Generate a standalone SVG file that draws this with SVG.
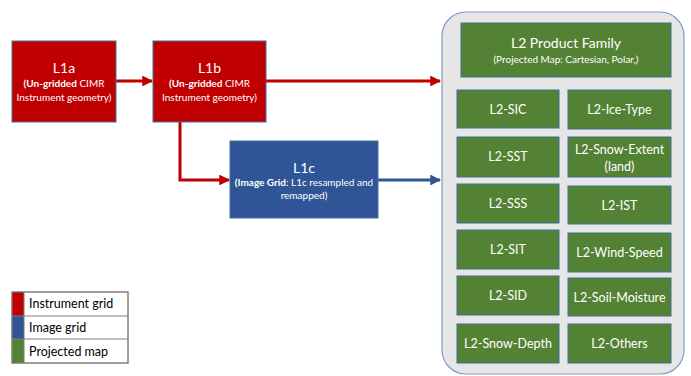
<svg xmlns="http://www.w3.org/2000/svg" width="691" height="376" viewBox="0 0 691 376">
<style>
text{font-family:Lato,"Open Sans","Liberation Sans",sans-serif;fill:#fff;text-anchor:middle}
.red{fill:#C00000;stroke:#41719C;stroke-width:1}
.blue{fill:#2F5597;stroke:#41719C;stroke-width:1}
.green{fill:#548235;stroke:#41719C;stroke-width:1}
.t{font-size:14px}
.s{font-size:10px}
.g{font-size:12.5px}
.lg{font-size:12.5px;fill:#000;text-anchor:start}
</style>
<defs>
<marker id="ar" viewBox="0 0 10 10" refX="9" refY="5" markerWidth="3.6" markerHeight="3.6" orient="auto" markerUnits="strokeWidth"><path d="M0,0L10,5L0,10z" fill="#C00000"/></marker>
<marker id="ab" viewBox="0 0 10 10" refX="9" refY="5" markerWidth="3.6" markerHeight="3.6" orient="auto" markerUnits="strokeWidth"><path d="M0,0L10,5L0,10z" fill="#2F5597"/></marker>
</defs>
<g id="container"><rect x="442" y="12" width="242" height="362" rx="24" fill="#E7E6E6" stroke="#7F9CC9" stroke-width="1.2"/></g>
<g id="connectors" fill="none" stroke-width="3">
<path d="M116,81H152" stroke="#C00000" marker-end="url(#ar)"/>
<path d="M266,81H440" stroke="#C00000" marker-end="url(#ar)"/>
<path d="M180,122V180H229" stroke="#C00000" marker-end="url(#ar)"/>
<path d="M378,180H440" stroke="#2F5597" marker-end="url(#ab)"/>
</g>
<g id="L1a"><rect class="red" x="12" y="41" width="104" height="81"/>
<text class="t" x="64" y="73">L1a</text>
<text class="s" x="64" y="87"><tspan font-weight="bold">(Un-gridded</tspan> CIMR</text>
<text class="s" x="64" y="101">Instrument geometry)</text></g>
<g id="L1b"><rect class="red" x="153" y="41" width="113" height="81"/>
<text class="t" x="209.5" y="73">L1b</text>
<text class="s" x="209.5" y="87"><tspan font-weight="bold">(Un-gridded</tspan> CIMR</text>
<text class="s" x="209.5" y="101">Instrument geometry)</text></g>
<g id="L1c"><rect class="blue" x="230" y="141" width="148" height="77"/>
<text class="t" x="304" y="173">L1c</text>
<text class="s" x="304" y="186"><tspan font-weight="bold">(Image Grid</tspan>: L1c resampled and</text>
<text class="s" x="304" y="199">remapped)</text></g>
<g id="L2family"><rect class="green" x="461" y="23" width="210" height="54"/>
<text class="t" x="566" y="48">L2 Product Family</text>
<text class="s" x="566" y="63">(Projected Map: Cartesian, Polar,)</text></g>
<g id="L2-SIC"><rect class="green" x="457" y="90" width="102" height="38"/><text class="g" x="508" y="114">L2-SIC</text></g>
<g id="L2-Ice-Type"><rect class="green" x="568" y="90" width="103" height="39"/><text class="g" x="619.5" y="114">L2-Ice-Type</text></g>
<g id="L2-SST"><rect class="green" x="457" y="137" width="102" height="40"/><text class="g" x="508" y="161">L2-SST</text></g>
<g id="L2-Snow-Extent"><rect class="green" x="568" y="137" width="103" height="40"/><text class="g" x="619.5" y="154">L2-Snow-Extent</text><text class="g" x="619.5" y="171">(land)</text></g>
<g id="L2-SSS"><rect class="green" x="457" y="184" width="102" height="39"/><text class="g" x="508" y="208">L2-SSS</text></g>
<g id="L2-IST"><rect class="green" x="568" y="186" width="103" height="38"/><text class="g" x="619.5" y="210">L2-IST</text></g>
<g id="L2-SIT"><rect class="green" x="457" y="230" width="102" height="39"/><text class="g" x="508" y="254">L2-SIT</text></g>
<g id="L2-Wind-Speed"><rect class="green" x="568" y="233" width="103" height="39"/><text class="g" x="619.5" y="257">L2-Wind-Speed</text></g>
<g id="L2-SID"><rect class="green" x="457" y="276" width="102" height="39"/><text class="g" x="508" y="300">L2-SID</text></g>
<g id="L2-Soil-Moisture"><rect class="green" x="568" y="278" width="103" height="38"/><text class="g" x="619.5" y="302">L2-Soil-Moisture</text></g>
<g id="L2-Snow-Depth"><rect class="green" x="457" y="324" width="102" height="39"/><text class="g" x="508" y="348">L2-Snow-Depth</text></g>
<g id="L2-Others"><rect class="green" x="568" y="324" width="103" height="39"/><text class="g" x="619.5" y="348">L2-Others</text></g>
<g id="legend">
<rect x="12" y="292" width="116" height="71" fill="#fff" stroke="#7F7F7F" stroke-width="1"/>
<rect x="12" y="292" width="12" height="24" fill="#C00000"/>
<rect x="12" y="316" width="12" height="23" fill="#2F5597"/>
<rect x="12" y="339" width="12" height="24" fill="#548235"/>
<path d="M12,316H128M12,339H128M24,292V363" stroke="#7F7F7F" stroke-width="1" fill="none"/>
<rect x="12" y="292" width="116" height="71" fill="none" stroke="#7F7F7F" stroke-width="1"/>
<text class="lg" x="29" y="308">Instrument grid</text>
<text class="lg" x="29" y="332">Image grid</text>
<text class="lg" x="29" y="356">Projected map</text>
</g>
</svg>
